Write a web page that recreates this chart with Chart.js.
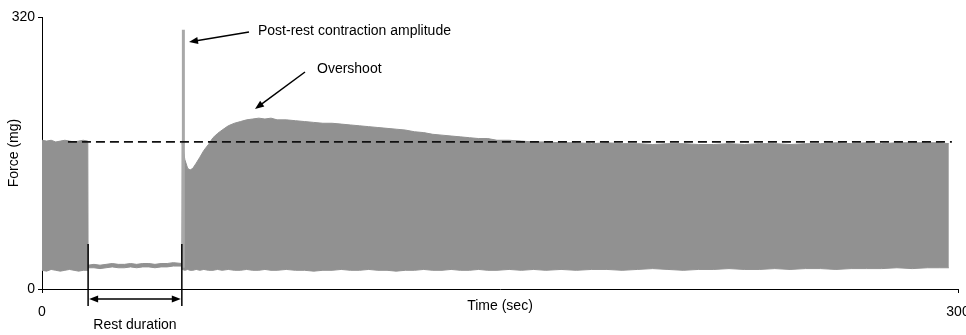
<!DOCTYPE html>
<html>
<head>
<meta charset="utf-8">
<script src="https://cdn.jsdelivr.net/npm/chart.js@4"></script>
<style>
  body { margin: 0; background: #fff; }
  #wrap { width: 966px; height: 335px; }
</style>
</head>
<body>
<div id="wrap"><canvas id="forceChart"></canvas></div>
<script>
// time (sec) of each envelope point
const times = [
  0, 1.5, 3, 4.5, 6, 7.5, 9, 10.5, 12, 13.5, 15,
  15.1, 17, 19, 21, 23, 25, 27, 29, 31, 33, 35, 37, 39, 41, 43, 45.8,
  45.9, 46.8, 47.7, 48.5, 49.4, 50.5, 51.7, 53, 54.5, 56, 57.5, 59,
  61, 63, 65, 67, 69, 71, 73, 75, 77,
  80, 83, 86, 89, 92, 95, 98, 101, 104, 107, 110, 113, 116, 119, 122, 125, 128, 131, 134, 137, 140, 143, 146, 149,
  153, 157, 161, 165,
  170, 175, 180, 185, 190, 195, 200, 205, 210, 215, 220, 225, 230, 235, 240, 245, 250, 255, 260, 265, 270, 275, 280, 285, 290,
  294, 297
];
// peak force of the contractions (mg)
const upperForce = [
  175, 174, 175, 173, 174, 175, 174, 173, 174, 175, 174,
  28, 29, 28, 29, 30, 29, 29, 30, 29, 30, 30, 29, 30, 30, 31, 30,
  172, 152, 142, 140, 142, 148, 155, 163, 170, 178, 183, 187,
  192, 195, 197, 199, 200, 201, 200, 201, 199,
  199, 198, 197, 196, 195, 195, 194, 193, 192, 191, 190, 189, 188, 187, 185, 184, 182, 181, 180, 179, 178, 177, 177, 175,
  175, 174, 173, 173,
  172, 172, 171, 172, 171, 171, 170, 171, 171, 170, 170, 171, 170, 171, 171, 170, 171, 171, 172, 171, 172, 171, 172, 172, 172,
  172, 171
];
// resting (diastolic) force (mg)
const lowerForce = [
  22, 21, 23, 22, 21, 22, 23, 22, 21, 22, 22,
  25, 25, 24, 25, 26, 25, 25, 26, 25, 26, 26, 25, 26, 26, 27, 27,
  23, 22, 23, 22, 22, 23, 22, 23, 22, 22, 23, 22,
  23, 22, 22, 23, 22, 22, 23, 22, 22,
  23, 22, 22, 21, 22, 22, 23, 22, 22, 23, 22, 22, 21, 22, 22, 23, 22, 22, 23, 22, 22, 23, 22, 22,
  23, 22, 23, 22,
  23, 22, 23, 23, 22, 23, 24, 23, 22, 23, 23, 24, 23, 23, 24, 23, 24, 24, 23, 24, 24, 24, 25, 24, 25,
  25, 25
];
// post-rest spike
const spikeTime = 46.3;
const spikeForce = [25, 305];
// steady-state reference line
const refTimes = [8.5, 298];
const refForce = 173;
// rest period
const restStart = 15.1;
const restEnd = 45.8;

const xTicks = [0, 300];
const yTicks = [0, 320];

const gray = '#919191';

const pts = (xs, ys) => xs.map((x, i) => ({ x: x, y: ys[i] }));

const annotations = {
  id: 'annotations',
  afterDraw(chart) {
    const ctx = chart.ctx;
    const xs = chart.scales.x;
    ctx.save();
    ctx.fillStyle = '#000';
    ctx.strokeStyle = '#000';
    ctx.font = '14px "Liberation Sans", Arial, sans-serif';
    ctx.textBaseline = 'middle';
    ctx.textAlign = 'left';
    ctx.fillText('Post-rest contraction amplitude', 258, 31);
    ctx.fillText('Overshoot', 317, 69);
    ctx.textAlign = 'center';
    ctx.fillText('Rest duration', 135, 325);

    function arrowHead(x1, y1, x2, y2) {
      const a = Math.atan2(y2 - y1, x2 - x1);
      const len = 9, w = 3.5;
      ctx.beginPath();
      ctx.moveTo(x2, y2);
      ctx.lineTo(x2 - len * Math.cos(a) + w * Math.sin(a), y2 - len * Math.sin(a) - w * Math.cos(a));
      ctx.lineTo(x2 - len * Math.cos(a) - w * Math.sin(a), y2 - len * Math.sin(a) + w * Math.cos(a));
      ctx.closePath();
      ctx.fill();
    }
    function arrow(x1, y1, x2, y2) {
      const a = Math.atan2(y2 - y1, x2 - x1);
      ctx.lineWidth = 1.5;
      ctx.beginPath();
      ctx.moveTo(x1, y1);
      ctx.lineTo(x2 - 6 * Math.cos(a), y2 - 6 * Math.sin(a));
      ctx.stroke();
      arrowHead(x1, y1, x2, y2);
    }
    arrow(249, 32, 189, 42);
    arrow(305, 72, 255, 109);

    // rest duration bracket
    const xa = xs.getPixelForValue(restStart);
    const xb = xs.getPixelForValue(restEnd);
    ctx.lineWidth = 1.5;
    ctx.beginPath();
    ctx.moveTo(xa, 244); ctx.lineTo(xa, 306);
    ctx.moveTo(xb, 244); ctx.lineTo(xb, 306);
    ctx.moveTo(xa + 6, 299); ctx.lineTo(xb - 6, 299);
    ctx.stroke();
    arrowHead(xb, 299, xa + 1, 299);
    arrowHead(xa, 299, xb - 1, 299);
    ctx.restore();
  }
};

Chart.defaults.font.family = '"Liberation Sans", Arial, sans-serif';
Chart.defaults.font.size = 14;
Chart.defaults.color = '#000';

new Chart(document.getElementById('forceChart'), {
  type: 'line',
  data: {
    datasets: [
      {
        label: 'reference',
        data: pts(refTimes, refTimes.map(() => refForce)),
        borderColor: '#111',
        borderWidth: 1.8,
        borderDash: [9, 5],
        fill: false,
        order: 0
      },
      {
        label: 'spike',
        data: pts([spikeTime, spikeTime], spikeForce),
        borderColor: '#a8a8a8',
        borderWidth: 3,
        fill: false,
        order: 1
      },
      {
        label: 'peak',
        data: pts(times, upperForce),
        borderColor: gray,
        borderWidth: 1,
        backgroundColor: gray,
        fill: '+1',
        order: 2
      },
      {
        label: 'rest',
        data: pts(times, lowerForce),
        borderColor: gray,
        borderWidth: 1,
        fill: false,
        order: 3
      }
    ]
  },
  options: {
    responsive: true,
    maintainAspectRatio: false,
    animation: false,
    layout: { padding: { top: 17, right: 8, left: 0, bottom: 0 } },
    elements: { point: { radius: 0 }, line: { tension: 0 } },
    plugins: {
      legend: { display: false },
      tooltip: { enabled: false }
    },
    scales: {
      x: {
        type: 'linear',
        min: 0,
        max: 300,
        afterBuildTicks: s => { s.ticks = xTicks.map(v => ({ value: v })); },
        afterFit: s => { s.height = 46; s.paddingLeft = 0; s.paddingRight = 0; },
        ticks: { padding: 11, maxRotation: 0, autoSkip: false },
        grid: { drawOnChartArea: false, tickLength: 4, color: '#000' },
        border: { color: '#000', width: 1 },
        title: { display: true, text: 'Time (sec)', padding: { top: 0, bottom: 20 } }
      },
      y: {
        min: 0,
        max: 320,
        afterBuildTicks: s => { s.ticks = yTicks.map(v => ({ value: v })); },
        afterFit: s => { s.width = 42; },
        ticks: { padding: 3, autoSkip: false },
        grid: { drawOnChartArea: false, tickLength: 4, color: '#000' },
        border: { color: '#000', width: 1 },
        title: { display: true, text: 'Force (mg)', padding: { top: 6, bottom: 0 } }
      }
    }
  },
  plugins: [annotations]
});
</script>
</body>
</html>
